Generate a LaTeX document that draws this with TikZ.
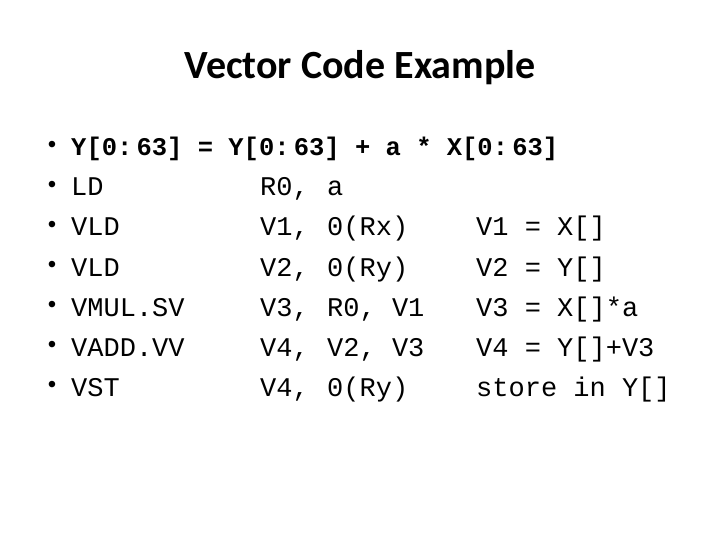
\documentclass[tikz,border=0pt]{standalone}
\usepackage{fontspec}
\setmainfont{Liberation Sans}
\newfontfamily\titlefont{Carlito}
\newfontfamily\codefont{Liberation Mono}
\begin{document}
\begin{tikzpicture}[x=1pt,y=-1pt,
  code/.style={anchor=base west,inner sep=0pt,font=\fontsize{27}{27}\selectfont\codefont},
  bul/.style={anchor=center,inner sep=0pt,font=\fontsize{24}{24}\selectfont}]
\useasboundingbox[fill=white] (0,0) rectangle (720,540);
\node[inner sep=0pt,font=\fontsize{40}{40}\selectfont\titlefont\bfseries] (title) at (360,68) {Vector Code Example};
\foreach \y [count=\i] in {147,187,227,267,307,347,387}{
  \node[bul] (b\i) at (52,\y) {•};
}
\node[code,font=\fontsize{25.5}{25.5}\selectfont\codefont\bfseries] (l1) at (71,156) {Y[0:\,63] = Y[0:\,63] + a * X[0:\,63]};
\node[code] (a2) at (71,196) {LD};
\node[code] (a3) at (71,236) {VLD};
\node[code] (a4) at (71,276) {VLD};
\node[code] (a5) at (71,316) {VMUL.SV};
\node[code] (a6) at (71,356) {VADD.VV};
\node[code] (a7) at (71,396) {VST};
\node[code] (r2) at (260,196) {R0,};
\node[code] (r3) at (260,236) {V1,};
\node[code] (r4) at (260,276) {V2,};
\node[code] (r5) at (260,316) {V3,};
\node[code] (r6) at (260,356) {V4,};
\node[code] (r7) at (260,396) {V4,};
\node[code] (s2) at (327,196) {a};
\node[code] (s3) at (327,236) {0(Rx)};
\node[code] (s4) at (327,276) {0(Ry)};
\node[code] (s5) at (327,316) {R0, V1};
\node[code] (s6) at (327,356) {V2, V3};
\node[code] (s7) at (327,396) {0(Ry)};
\node[code] (c3) at (476,236) {V1 = X[]};
\node[code] (c4) at (476,276) {V2 = Y[]};
\node[code] (c5) at (476,316) {V3 = X[]*a};
\node[code] (c6) at (476,356) {V4 = Y[]+V3};
\node[code] (c7) at (476,396) {store in Y[]};
\end{tikzpicture}
\end{document}
